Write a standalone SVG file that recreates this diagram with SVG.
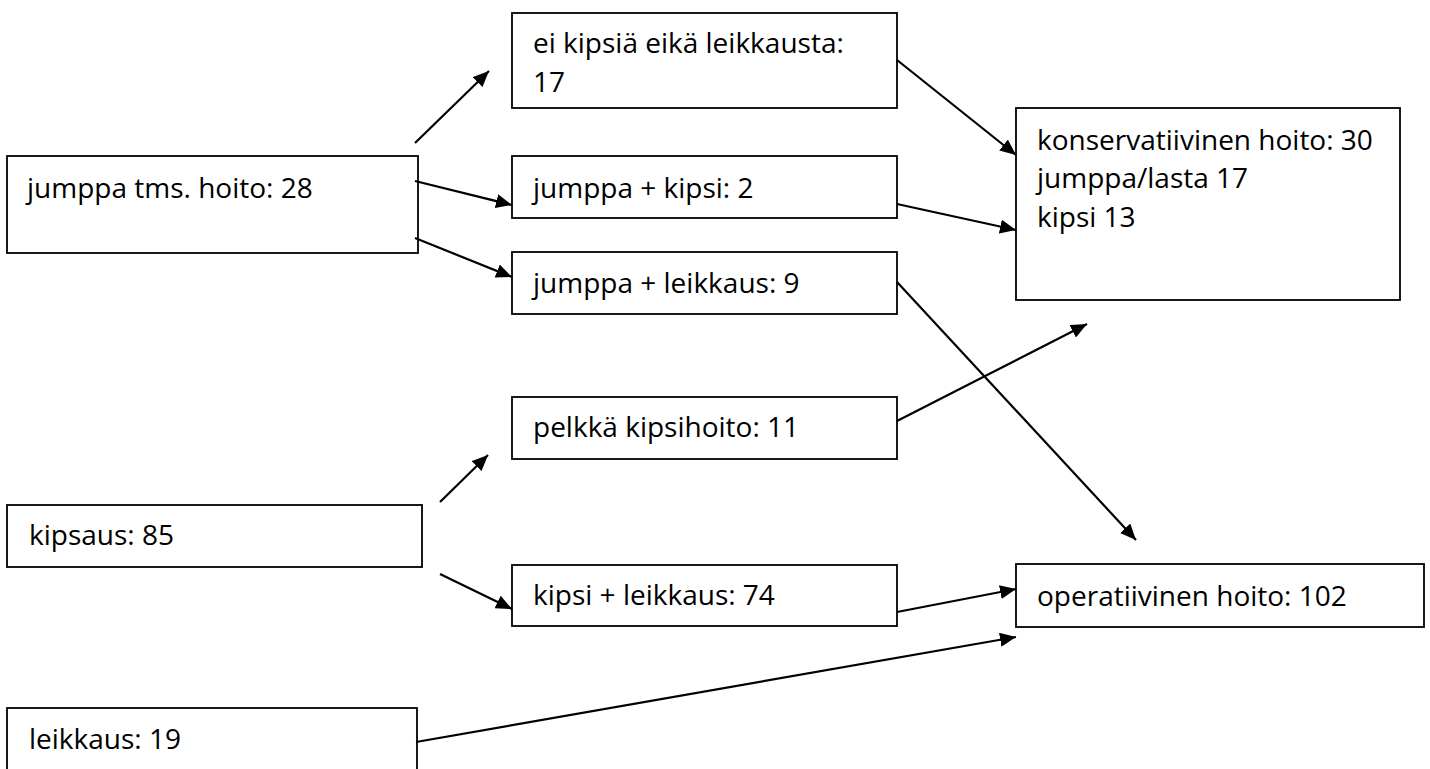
<svg xmlns="http://www.w3.org/2000/svg" width="1430" height="769" viewBox="0 0 1430 769">
<style>
.box{fill:#fff;stroke:#000;stroke-width:1.8}
.lbl{font-family:"Open Sans",Lato,sans-serif;font-size:28px;fill:#000}
.conn line{stroke:#000;stroke-width:2.2}
</style>
<defs>
<marker id="ah" markerUnits="userSpaceOnUse" markerWidth="16" markerHeight="14" refX="16" refY="7" orient="auto">
<path d="M0,0 L16,7 L0,14 z" fill="#000"/>
</marker>
</defs>
<rect width="1430" height="769" fill="#fff"/>
<g id="n-jumppa"><rect class="box" x="7" y="156" width="411" height="97"/><text class="lbl" x="27" y="198">jumppa tms. hoito: 28</text></g>
<g id="n-kipsaus"><rect class="box" x="7" y="505" width="415" height="62"/><text class="lbl" x="29" y="545">kipsaus: 85</text></g>
<g id="n-leikkaus"><rect class="box" x="7" y="708" width="410" height="70"/><text class="lbl" x="29" y="749">leikkaus: 19</text></g>
<g id="n-ei"><rect class="box" x="512" y="13" width="385" height="95"/><text class="lbl" x="533" y="53">ei kipsiä eikä leikkausta:</text><text class="lbl" x="533" y="92">17</text></g>
<g id="n-jk"><rect class="box" x="512" y="156" width="385" height="62"/><text class="lbl" x="533" y="198">jumppa + kipsi: 2</text></g>
<g id="n-jl"><rect class="box" x="512" y="252" width="385" height="62"/><text class="lbl" x="533" y="293">jumppa + leikkaus: 9</text></g>
<g id="n-pk"><rect class="box" x="512" y="397" width="385" height="62"/><text class="lbl" x="533" y="437">pelkkä kipsihoito: 11</text></g>
<g id="n-kl"><rect class="box" x="512" y="565" width="385" height="61"/><text class="lbl" x="533" y="605">kipsi + leikkaus: 74</text></g>
<g id="n-kons"><rect class="box" x="1016" y="108" width="384" height="192"/><text class="lbl" x="1037" y="150">konservatiivinen hoito: 30</text><text class="lbl" x="1037" y="188">jumppa/lasta 17</text><text class="lbl" x="1037" y="227">kipsi 13</text></g>
<g id="n-oper"><rect class="box" x="1016" y="564" width="408" height="63"/><text class="lbl" x="1037" y="606">operatiivinen hoito: 102</text></g>
<g id="connectors" class="conn">
<line x1="415" y1="143" x2="489" y2="71" marker-end="url(#ah)"/>
<line x1="415" y1="181" x2="512" y2="205" marker-end="url(#ah)"/>
<line x1="415" y1="238" x2="512" y2="277" marker-end="url(#ah)"/>
<line x1="440" y1="502" x2="488" y2="455" marker-end="url(#ah)"/>
<line x1="440" y1="574" x2="512" y2="609" marker-end="url(#ah)"/>
<line x1="897" y1="60" x2="1016" y2="155" marker-end="url(#ah)"/>
<line x1="897" y1="204" x2="1016" y2="230" marker-end="url(#ah)"/>
<line x1="897" y1="282" x2="1136" y2="540" marker-end="url(#ah)"/>
<line x1="897" y1="421" x2="1087" y2="324" marker-end="url(#ah)"/>
<line x1="897" y1="612" x2="1016" y2="589" marker-end="url(#ah)"/>
<line x1="416" y1="742" x2="1016" y2="637" marker-end="url(#ah)"/>
</g>
</svg>
